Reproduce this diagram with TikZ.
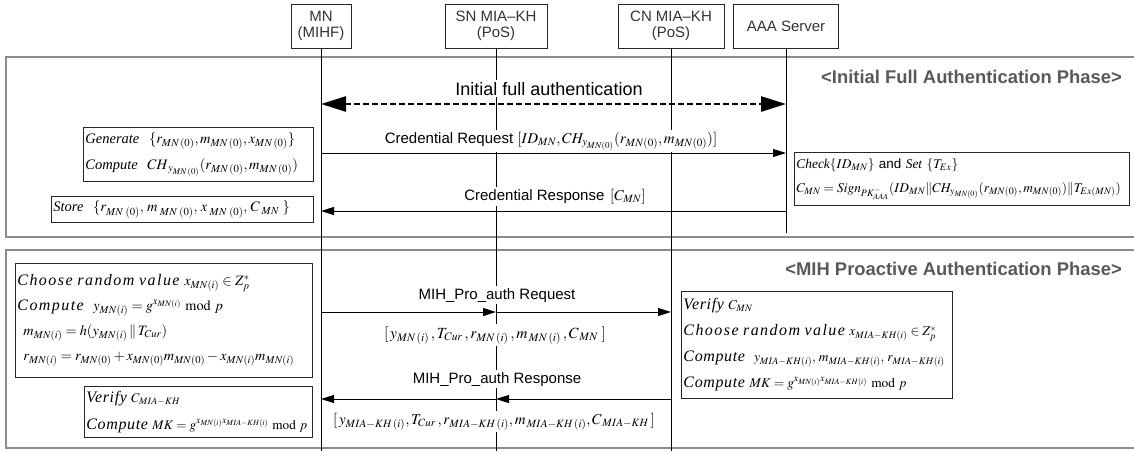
\documentclass[tikz,border=0pt]{standalone}
\usepackage{mathptmx}
\usepackage[no-math]{fontspec}
\setmainfont{Liberation Serif}
\setsansfont{Liberation Sans}
\usetikzlibrary{arrows.meta}
\newcommand{\bw}[1]{{\fontsize{16}{25}\selectfont\addfontfeatures{LetterSpace=4}#1}}
\newcommand{\bwx}[1]{{\fontsize{16}{25}\selectfont\addfontfeatures{LetterSpace=9}#1}}

\tikzset{
  phasebox/.style={draw=black!45, line width=1.3pt},
  lifeline/.style={draw=black, line width=0.9pt},
  hdr/.style={draw=black!85, line width=0.9pt, minimum height=44pt, inner sep=0pt,
    align=center, font=\sffamily\fontsize{15}{16.5}\selectfont, text=black!80},
  calcbox/.style={draw=black!85, line width=0.9pt, fill=white, anchor=north west,
    inner xsep=2pt, inner ysep=0pt, align=left},
  msg/.style={line width=0.9pt, -{Triangle[length=13pt,width=8pt]}},
  authmsg/.style={line width=2.6pt, dash pattern=on 6pt off 3pt,
    {Triangle[length=25pt,width=15pt]}-{Triangle[length=25pt,width=15pt]}},
  lbl/.style={fill=white, inner xsep=2pt, inner ysep=2pt, anchor=base,
    font=\sffamily\fontsize{15}{18}\selectfont},
  phasetitle/.style={anchor=base east, inner sep=0pt, font=\sffamily\bfseries\fontsize{18.4}{20}\selectfont, text=black!65},
}

\begin{document}
\begin{tikzpicture}[x=1pt,y=-1pt]
\useasboundingbox (0,0) rectangle (1134,451);

% phase frames
\draw[phasebox] (6,57) rectangle (1150,237);
\draw[phasebox] (6,250) rectangle (1150,448);

% entities
\node[hdr, minimum width=60pt]  (MN)  at (321,26)   {MN\\(MIHF)};
\node[hdr, minimum width=102pt] (SN)  at (496,26)   {SN MIA–KH\\(PoS)};
\node[hdr, minimum width=106pt] (CN)  at (671,26)   {CN MIA–KH\\(PoS)};
\node[hdr, minimum width=105pt] (AAA) at (786,26)   {AAA Server};

% lifelines
\coordinate (MNend)  at (321,451);
\coordinate (SNend)  at (496,451);
\coordinate (CNend)  at (671,451);
\coordinate (AAAend) at (786,233);
\draw[lifeline] (MN.south) -- (MNend);
\draw[lifeline] (SN.south) -- (SNend);
\draw[lifeline] (CN.south) -- (CNend);
\draw[lifeline] (AAA.south) -- (AAAend);

% phase titles
\node[phasetitle] (t1) at (1122,83)  {<Initial Full Authentication Phase>};
\node[phasetitle] (t2) at (1122,275) {<MIH Proactive Authentication Phase>};

% ---------- Initial full authentication phase ----------
\draw[authmsg] (MN |- 0,104) -- (AAA |- 0,104);
\node[lbl, font=\sffamily\fontsize{18}{20}\selectfont] (ifa) at (549,95) {Initial full authentication};

\draw[msg] (MN |- 0,153) -- (AAA |- 0,153);
\node[lbl] (creq) at (551,143) {Credential Request $[ID_{MN},CH_{y_{MN(0)}}(r_{MN(0)},m_{MN(0)})]$};

\draw[msg] (AAA |- 0,211) -- (MN |- 0,211);
\node[lbl] (cres) at (555,200) {Credential Response $\,[C_{MN}]$};

\node[calcbox, minimum width=230pt, minimum height=54pt, text width=226pt,
  font=\itshape\fontsize{14.5}{26}\selectfont] (gen) at (83,127)
  {\mbox{Generate\ \ $\{r_{MN\,(0)},m_{MN\,(0)},x_{MN\,(0)}\}$}\\
   \mbox{Compute\ \ $CH_{\,y_{MN\,(0)}}(r_{MN\,(0)},m_{MN\,(0)})$}};

\node[calcbox, minimum width=262pt, minimum height=26pt, text width=258pt,
  font=\itshape\fontsize{14.5}{26}\selectfont] (store) at (51,196)
  {\mbox{Store\ \ $\{r_{MN\,\,(0)},\,m_{\;MN\,\,(0)},\,x_{\;MN\,\,(0)},\,C_{\;MN}\;\}$}};

\node[calcbox, minimum width=335pt, minimum height=53pt, text width=331pt,
  font=\itshape\fontsize{13.4}{24}\selectfont] (chk) at (794,152)
  {\mbox{Check$\{ID_{MN}\}$ {\upshape\sffamily and} Set $\{T_{Ex}\}$}\\
   \mbox{$C_{MN}=\mathit{Sign}_{PK^{-}_{AAA}}(ID_{MN}\|CH_{y_{MN(0)}}(r_{MN(0)},m_{MN(0)})\|T_{Ex(MN)})$}};

% ---------- MIH proactive authentication phase ----------
\draw[msg] (MN |- 0,312) -- (SN |- 0,312);
\draw[msg] (SN |- 0,312) -- (CN |- 0,312);
\node[lbl] (preq) at (497,299) {MIH\_Pro\_auth Request};
\node[lbl, font=\fontsize{15.5}{18}\selectfont] (preqp) at (495,338)
  {$[\,y_{MN\,(i)}\,,T_{Cur}\,,r_{MN\,(i)}\,,m_{\,MN\,(i)}\,,C_{\,MN}\;]$};

\draw[msg] (CN |- 0,399) -- (SN |- 0,399);
\draw[msg] (SN |- 0,399) -- (MN |- 0,399);
\node[lbl] (pres) at (497,383) {MIH\_Pro\_auth Response};
\node[lbl, font=\fontsize{15}{18}\selectfont] (presp) at (494,424)
  {$[\,y_{MIA-KH\,(i)},T_{Cur}\,,r_{MIA-KH\,(i)},m_{\,MIA-KH\,(i)},C_{\,MIA-KH}\,]$};

\node[calcbox, minimum width=297pt, minimum height=114pt, text width=293pt,
  font=\itshape\fontsize{14.3}{25}\selectfont] (mncalc) at (15,263)
  {\mbox{\bwx{Choose random value} $x_{MN(i)}\in Z_p^{*}$}\\
   \mbox{\bwx{Compute}\ \ $y_{MN(i)}=g^{x_{MN(i)}}\bmod p$}\\
   \mbox{\hspace*{6pt}$m_{MN(i)}=h(y_{MN(i)}\,\|\,T_{Cur})$}\\
   \mbox{\hspace*{6pt}$r_{MN(i)}=r_{MN(0)}+x_{MN(0)}m_{MN(0)}-x_{MN(i)}m_{MN(i)}$}};

\node[calcbox, minimum width=228pt, minimum height=51pt, text width=224pt,
  font=\itshape\fontsize{13.2}{27}\selectfont] (mnmk) at (84,386)
  {\mbox{\bw{Verify} $C_{MIA-KH}$}\\
   \mbox{\bw{Compute} $MK=g^{x_{MN(i)}x_{MIA-KH(i)}}\bmod p$}};

\node[calcbox, minimum width=271pt, minimum height=107pt, text width=267pt,
  font=\itshape\fontsize{13.4}{26}\selectfont] (cncalc) at (681,291)
  {\mbox{\bw{Verify} $C_{MN}$}\\
   \mbox{\bwx{Choose random value} $x_{MIA-KH(i)}\in Z_p^{*}$}\\
   \mbox{\bw{Compute}\ \ $y_{MIA-KH(i)},\,m_{MIA-KH(i)},\,r_{MIA-KH(i)}$}\\
   \mbox{\bw{Compute} $MK=g^{x_{MN(i)}x_{MIA-KH(i)}}\bmod p$}};

\end{tikzpicture}
\end{document}
